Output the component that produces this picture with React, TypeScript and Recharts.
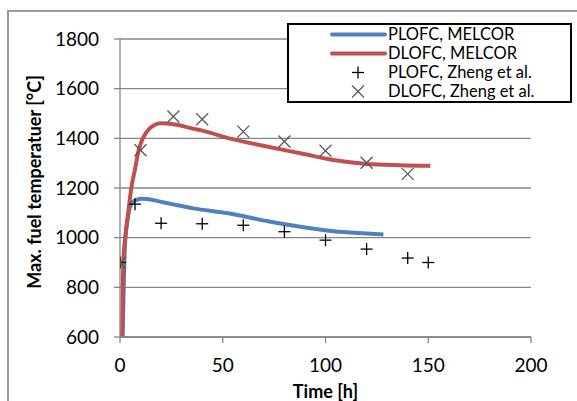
import React from 'react';
import { ComposedChart, Line, Scatter, XAxis, YAxis, CartesianGrid, Legend } from 'recharts';

// MELCOR results
const plofcMelcorTime = [1.3, 1.8, 2.4, 3.5, 4.9, 6.5, 8.1, 10.5, 13, 19.5, 27, 35.7, 52.7, 71.4, 87.7, 103.9, 120, 128.2];
const plofcMelcorTemp = [600, 800, 963, 1060, 1125, 1145, 1152, 1157, 1156, 1145, 1132, 1118, 1098, 1067, 1044, 1026, 1017, 1013];

const dlofcMelcorTime = [1, 1.6, 2.5, 4, 5.5, 7.3, 9, 10.6, 12.5, 14.6, 17, 19.5, 23, 27.6, 35, 40.6, 52.7, 71.4, 87.7, 103.9, 120, 136.4, 151];
const dlofcMelcorTemp = [600, 900, 1000, 1100, 1200, 1275, 1350, 1390, 1420, 1441, 1455, 1461, 1460, 1455, 1440, 1430, 1401, 1367, 1340, 1313, 1297, 1292, 1290];

// Zheng et al. reference points
const plofcZhengTime = [0, 7.3, 20, 40, 60, 80, 100, 120, 140, 150];
const plofcZhengTemp = [900, 1135, 1058, 1056, 1050, 1024, 990, 954, 918, 900];

const dlofcZhengTime = [0, 10, 26, 40, 60, 80, 100, 120, 140];
const dlofcZhengTemp = [898, 1352, 1488, 1477, 1427, 1387, 1350, 1302, 1257];

const xTicks = [0, 50, 100, 150, 200];
const yTicks = [600, 800, 1000, 1200, 1400, 1600, 1800];

const legendItems = [
  { name: 'PLOFC, MELCOR', kind: 'line', color: '#4F81BD' },
  { name: 'DLOFC, MELCOR', kind: 'line', color: '#C0504D' },
  { name: 'PLOFC, Zheng et al.', kind: 'plus', color: '#000000' },
  { name: 'DLOFC, Zheng et al.', kind: 'cross', color: '#595959' },
];

const zip = (xs: number[], ys: number[]) => xs.map((x, i) => ({ x, y: ys[i] }));

const plofcMelcor = zip(plofcMelcorTime, plofcMelcorTemp);
const dlofcMelcor = zip(dlofcMelcorTime, dlofcMelcorTemp);
const plofcZheng = zip(plofcZhengTime, plofcZhengTemp);
const dlofcZheng = zip(dlofcZhengTime, dlofcZhengTemp);

const FONT = 'Lato, "Open Sans", sans-serif';
const AXIS_GRAY = '#868686';

const PlusMarker = (props: any) => {
  const { cx, cy } = props;
  const h = 6;
  return (
    <g stroke="#000" strokeWidth={1.3}>
      <line x1={cx - h} y1={cy} x2={cx + h} y2={cy} />
      <line x1={cx} y1={cy - h} x2={cx} y2={cy + h} />
    </g>
  );
};

const CrossMarker = (props: any) => {
  const { cx, cy } = props;
  const h = 6;
  return (
    <g stroke="#595959" strokeWidth={1.3}>
      <line x1={cx - h} y1={cy - h} x2={cx + h} y2={cy + h} />
      <line x1={cx - h} y1={cy + h} x2={cx + h} y2={cy - h} />
    </g>
  );
};

const LegendBox = () => (
  <div
    style={{
      width: 281,
      height: 76,
      border: '2px solid #000',
      background: '#fff',
      fontFamily: FONT,
      fontSize: 16.5,
      color: '#000',
      boxSizing: 'content-box',
    }}
  >
    {legendItems.map((item) => (
      <div key={item.name} style={{ display: 'flex', alignItems: 'center', height: 19, lineHeight: '19px', whiteSpace: 'nowrap' }}>
        <svg width={99} height={19} style={{ flex: 'none' }}>
          {item.kind === 'line' && <line x1={43} y1={9.5} x2={96} y2={9.5} stroke={item.color} strokeWidth={4} strokeLinecap="round" />}
          {item.kind === 'plus' && <PlusMarker cx={69} cy={9.5} />}
          {item.kind === 'cross' && <CrossMarker cx={69} cy={9.5} />}
        </svg>
        <span>{item.name}</span>
      </div>
    ))}
  </div>
);

const YTitle = (props: any) => {
  const { viewBox } = props;
  const x = viewBox.x + 34;
  const y = viewBox.y + viewBox.height / 2 - 6;
  return (
    <text
      x={x}
      y={y}
      transform={`rotate(-90, ${x}, ${y})`}
      textAnchor="middle"
      dominantBaseline="central"
      style={{ fontFamily: FONT, fontSize: 18, fontWeight: 700, fill: '#000' }}
    >
      Max. fuel temperatuer [°C]
    </text>
  );
};

const XTitle = (props: any) => {
  const { viewBox } = props;
  return (
    <text
      x={viewBox.x + viewBox.width / 2}
      y={viewBox.y + 61}
      textAnchor="middle"
      style={{ fontFamily: FONT, fontSize: 18, fontWeight: 700, fill: '#000' }}
    >
      Time [h]
    </text>
  );
};

export default function App() {
  return (
    <div style={{ position: 'absolute', left: 0, top: 0, width: 577, height: 401, background: '#fff', overflow: 'hidden' }}>
      <div
        style={{
          position: 'absolute',
          left: 7,
          top: 10,
          width: 620,
          height: 440,
          border: '2px solid #9a9a9a',
        }}
      />
      <ComposedChart
        width={577}
        height={401}
        margin={{ top: 39, right: 46, left: 0, bottom: 0 }}
        style={{ position: 'absolute', left: 0, top: 0 }}
      >
        <CartesianGrid vertical={false} stroke={AXIS_GRAY} strokeWidth={1.3} />
        <XAxis
          type="number"
          dataKey="x"
          domain={[0, 200]}
          ticks={xTicks}
          allowDataOverflow
          height={64}
          stroke={AXIS_GRAY}
          strokeWidth={1.3}
          tickSize={6}
          tickMargin={16}
          tick={{ fontFamily: FONT, fontSize: 19, fill: '#000' }}
          label={<XTitle />}
        />
        <YAxis
          type="number"
          dataKey="y"
          domain={[600, 1800]}
          ticks={yTicks}
          allowDataOverflow
          width={120}
          stroke={AXIS_GRAY}
          strokeWidth={1.3}
          tickSize={6}
          tickMargin={15}
          tick={{ fontFamily: FONT, fontSize: 19, fill: '#000' }}
          label={<YTitle />}
        />
        <Line
          data={plofcMelcor}
          dataKey="y"
          type="monotone"
          stroke="#4F81BD"
          strokeWidth={4}
          dot={false}
          isAnimationActive={false}
        />
        <Line
          data={dlofcMelcor}
          dataKey="y"
          type="monotone"
          stroke="#C0504D"
          strokeWidth={4}
          dot={false}
          isAnimationActive={false}
        />
        <Scatter data={plofcZheng} dataKey="y" shape={<PlusMarker />} isAnimationActive={false} />
        <Scatter data={dlofcZheng} dataKey="y" shape={<CrossMarker />} isAnimationActive={false} />
        <Legend
          layout="horizontal"
          verticalAlign="middle"
          align="center"
          content={<LegendBox />}
          wrapperStyle={{ position: 'absolute', left: 287, top: 23, width: 285, height: 80 }}
        />
      </ComposedChart>
    </div>
  );
}
